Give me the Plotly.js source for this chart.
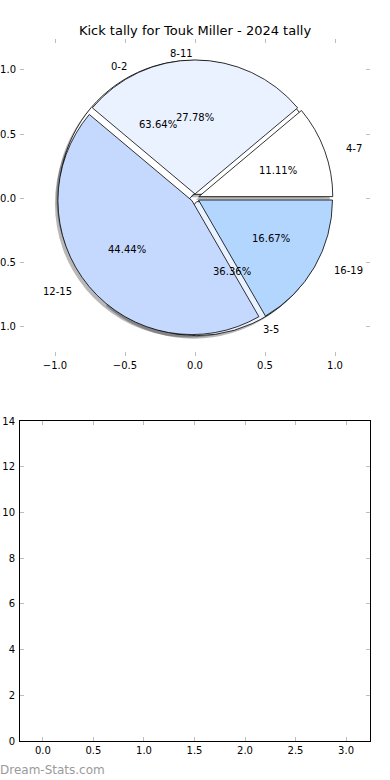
<!DOCTYPE html>
<html>
<head>
<meta charset="utf-8">
<script src="https://cdn.plot.ly/plotly-3.0.1.min.js"></script>
<style>html,body{margin:0;padding:0;background:#fff;}#chart{width:390px;height:780px;}</style>
</head>
<body>
<div id="chart"></div>
<script>
// ---- data ----
const title = 'Kick tally for Touk Miller - 2024 tally';
const innerLabels = ['0-2', '3-5'];
const innerValues = [7, 4];
const outerLabels = ['4-7', '8-11', '12-15', '16-19'];
const outerValues = [2, 5, 8, 3];
const sliceColors = ['#ffffff', '#eaf1ff', '#c5d9ff', '#b3d6ff'];
const pieTicks = [-1, -0.5, 0, 0.5, 1];
const barTicksX = [0, 0.5, 1, 1.5, 2, 2.5, 3];
const barTicksY = [0, 2, 4, 6, 8, 10, 12, 14];
const watermark = 'Dream-Stats.com';

// ---- geometry (pixels) ----
const W = 390, H = 780;
const M = {l: 20, r: 20, t: 39, b: 39};
const PW = W - M.l - M.r, PH = H - M.t - M.b;
const px = x => (x - M.l) / PW;          // pixel x -> paper
const py = y => (H - M.b - y) / PH;      // pixel y -> paper
const cx = 195, cy = 198, R = 134, pull = 0.03;
const half = R * (1 + pull);
const pieDomain = (dx, dy) => ({
  x: [px(cx - half + dx), px(cx + half + dx)],
  y: [py(cy + half + dy), py(cy - half + dy)]
});
const FONT = 'DejaVu Sans, sans-serif';
const sum = a => a.reduce((s, v) => s + v, 0);
// first wedge starts at 3 o'clock and the pie runs counterclockwise (matplotlib default)
const startRotation = values => 90 - 360 * values[0] / sum(values);

function pie(labels, values, opts) {
  return Object.assign({
    type: 'pie', labels: labels, values: values, sort: false,
    direction: 'counterclockwise', rotation: startRotation(values),
    pull: values.map(() => pull), domain: pieDomain(0, 0),
    textinfo: 'none', hoverinfo: 'skip', showlegend: false
  }, opts);
}

const shadowMarker = n => ({colors: Array(n).fill('rgba(0,0,0,0.28)'), line: {width: 0}});
const data = [
  // empty cartesian traces so that both sets of axes are drawn
  {type: 'scatter', x: [], y: [], xaxis: 'x', yaxis: 'y', showlegend: false, hoverinfo: 'skip'},
  {type: 'scatter', x: [], y: [], xaxis: 'x2', yaxis: 'y2', showlegend: false, hoverinfo: 'skip'},
  pie(innerLabels, innerValues, {domain: pieDomain(-3, 3), marker: shadowMarker(2)}),
  pie(outerLabels, outerValues, {domain: pieDomain(-3, 3), marker: shadowMarker(4)}),
  pie(innerLabels, innerValues, {marker: {colors: sliceColors.slice(0, 2), line: {color: '#000', width: 0.8}}}),
  pie(outerLabels, outerValues, {marker: {colors: sliceColors, line: {color: '#000', width: 0.8}}})
];

// wedge labels and percentages, placed in the pie axes' unit coordinates
const txtFont = {family: FONT, size: 10, color: '#000'};
function wedgeTexts(labels, values) {
  const total = sum(values);
  const out = [];
  let acc = 0;
  values.forEach((v, i) => {
    const t1 = acc / total, t2 = (acc + v) / total;
    acc += v;
    const th = Math.PI * (t1 + t2);
    const c = Math.cos(th), s = Math.sin(th);
    const ox = pull * c, oy = pull * s;
    out.push({xref: 'x', yref: 'y', x: ox + 0.6 * c, y: oy + 0.6 * s,
      text: (100 * v / total).toFixed(2) + '%', showarrow: false,
      xanchor: 'center', yanchor: 'middle', font: txtFont});
    const lx = ox + 1.1 * c, ly = oy + 1.1 * s;
    out.push({xref: 'x', yref: 'y', x: lx, y: ly, text: labels[i], showarrow: false,
      xanchor: lx > 0.01 ? 'left' : 'right', yanchor: 'middle', font: txtFont});
  });
  return out;
}

const tickFont = {family: FONT, size: 10, color: '#000'};
const baseAxis = {
  ticks: 'inside', ticklen: 4, tickwidth: 1, tickcolor: '#bdbdbd',
  showgrid: false, zeroline: false, tickfont: tickFont, fixedrange: true
};

const layout = {
  width: W, height: H, margin: M,
  paper_bgcolor: '#fff', plot_bgcolor: 'rgba(0,0,0,0)',
  font: {family: FONT, size: 10, color: '#000'},
  title: {text: title, font: {family: FONT, size: 13, color: '#000'},
          x: 0.5, xanchor: 'center', xref: 'paper', y: 1 - 30 / H, yanchor: 'middle', yref: 'container'},
  xaxis: Object.assign({}, baseAxis, {anchor: 'y', domain: [0, 1], range: [-1.25, 1.25],
    tickvals: pieTicks, tickformat: '.1f', showline: false, mirror: 'ticks', ticklabelstandoff: 2}),
  yaxis: Object.assign({}, baseAxis, {anchor: 'x', domain: [py(356), 1], range: [-1.234, 1.242],
    tickvals: pieTicks, tickformat: '.1f', showline: false, mirror: 'ticks', ticklabelstandoff: 3}),
  xaxis2: Object.assign({}, baseAxis, {anchor: 'y2', domain: [0, 1], range: [-0.227, 3.237],
    tickvals: barTicksX, tickformat: '.1f', showline: true, linecolor: '#000', linewidth: 1, mirror: 'ticks'}),
  yaxis2: Object.assign({}, baseAxis, {anchor: 'x2', domain: [0, py(421)], range: [0, 14],
    tickvals: barTicksY, tickformat: 'd', showline: true, linecolor: '#000', linewidth: 1, mirror: 'ticks',
    ticklabelstandoff: 2}),
  annotations: wedgeTexts(innerLabels, innerValues)
    .concat(wedgeTexts(outerLabels, outerValues))
    .concat([{
      text: watermark, xref: 'paper', yref: 'paper', x: px(-2), y: py(770),
      xanchor: 'left', yanchor: 'middle', showarrow: false,
      font: {family: FONT, size: 12, color: '#9a9a9a'}
    }])
};

Plotly.newPlot('chart', data, layout, {staticPlot: true, displayModeBar: false});
</script>
</body>
</html>
